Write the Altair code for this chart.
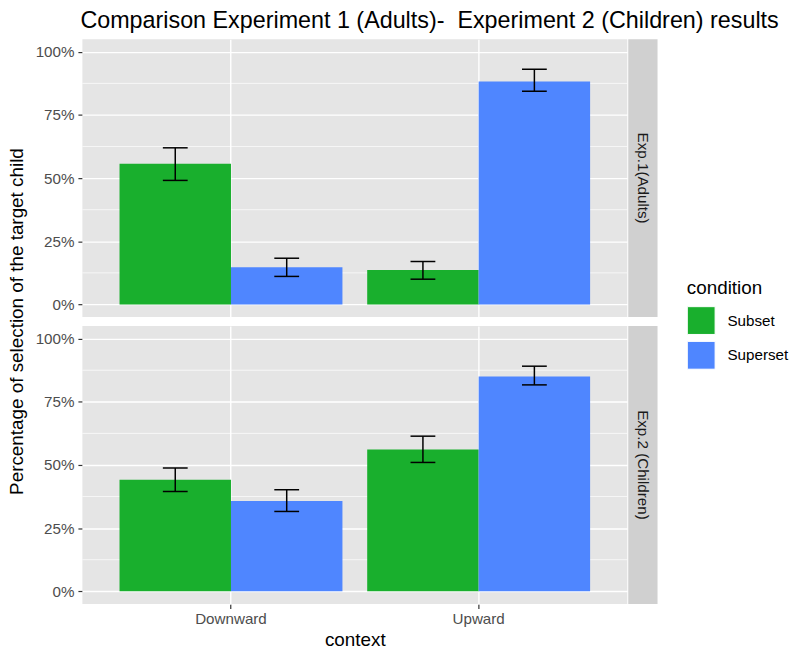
import altair as alt
import pandas as pd

# Experiment panels, x categories and fill groups
experiments = ["Exp.1(Adults)", "Exp.2 (Children)"]
contexts = ["Downward", "Upward"]
conditions = ["Subset", "Superset"]

# One entry per bar: experiment x context x condition
exp_col = ["Exp.1(Adults)"] * 4 + ["Exp.2 (Children)"] * 4
context_col = ["Downward", "Downward", "Upward", "Upward"] * 2
condition_col = ["Subset", "Superset"] * 4
pct = [0.557, 0.147, 0.136, 0.883, 0.441, 0.357, 0.561, 0.850]
lo = [0.491, 0.111, 0.100, 0.844, 0.395, 0.316, 0.510, 0.817]
hi = [0.620, 0.183, 0.170, 0.931, 0.488, 0.402, 0.614, 0.891]

y_breaks = [0, 0.25, 0.5, 0.75, 1.0]
y_minor = [0.125, 0.375, 0.625, 0.875]
y_title = "Percentage of selection of the target child"

df = pd.DataFrame({
    "exp": exp_col,
    "context": context_col,
    "condition": condition_col,
    "pct": pct,
    "lo": lo,
    "hi": hi,
})

W, H = 549, 280
ROW_GAP = 9
FONT = "Liberation Sans"
GREEN, BLUE = "#19AF2D", "#4F86FF"
PANEL_BG, STRIP_BG = "#E5E5E5", "#D0D0D0"

base = alt.Chart()
one_row = (alt.datum.context == "Downward") & (alt.datum.condition == "Subset")

yscale = alt.Scale(domain=[-0.05, 1.05], nice=False, zero=False)
y_axis = alt.Axis(values=y_breaks, format="%", title=None)

x_enc = alt.X(
    "context:N",
    sort=contexts,
    scale=alt.Scale(paddingInner=0.1, paddingOuter=0.15),
    axis=alt.Axis(title="context", labelAngle=0, grid=True),
)
xoff_enc = alt.XOffset(
    "condition:N", sort=conditions, scale=alt.Scale(paddingInner=0, paddingOuter=0)
)

# minor horizontal grid lines (drawn first, beneath the bars)
minor = (
    base.transform_filter(one_row)
    .transform_calculate(m=str(y_minor))
    .transform_flatten(["m"])
    .mark_rule(color="white", strokeWidth=0.7)
    .encode(y=alt.Y("m:Q", scale=yscale, axis=y_axis))
)

bars = base.mark_bar().encode(
    x=x_enc,
    xOffset=xoff_enc,
    y=alt.Y("pct:Q", scale=yscale, axis=y_axis),
    y2=alt.datum(0),
    color=alt.Color(
        "condition:N",
        sort=conditions,
        scale=alt.Scale(domain=conditions, range=[GREEN, BLUE]),
        legend=alt.Legend(title="condition", orient="none", legendX=609, legendY=242),
    ),
)

err = base.mark_rule(color="black", strokeWidth=1.5).encode(
    x=x_enc, xOffset=xoff_enc, y=alt.Y("lo:Q", scale=yscale, axis=y_axis), y2="hi:Q"
)
cap_lo = base.mark_tick(color="black", thickness=1.5, size=25, opacity=1).encode(
    x=x_enc, xOffset=xoff_enc, y=alt.Y("lo:Q", scale=yscale, axis=y_axis)
)
cap_hi = base.mark_tick(color="black", thickness=1.5, size=25, opacity=1).encode(
    x=x_enc, xOffset=xoff_enc, y=alt.Y("hi:Q", scale=yscale, axis=y_axis)
)

# facet strip on the right of each panel
strip = (
    base.transform_filter(one_row)
    .mark_rect(color=STRIP_BG)
    .encode(
        x=alt.value(W + 1),
        x2=alt.value(W + 30.5),
        y=alt.value(0),
        y2=alt.value(H),
    )
)
strip_text = (
    base.transform_filter(one_row)
    .mark_text(angle=90, font=FONT, fontSize=15.3, color="#1A1A1A")
    .encode(text="exp:N", x=alt.value(W + 15.75), y=alt.value(H / 2))
)

# shared y-axis title, centred across both rows (drawn from the top row only)
shared_y_title = (
    base.transform_filter(one_row & (alt.datum.exp == experiments[0]))
    .mark_text(angle=270, font=FONT, fontSize=19, color="black", baseline="middle")
    .encode(
        text=alt.value(y_title),
        x=alt.value(-66),
        y=alt.value(H + ROW_GAP / 2),
    )
)

panel = alt.layer(
    minor, bars, err, cap_lo, cap_hi, strip, strip_text, shared_y_title
).properties(width=W, height=H)

chart = (
    panel.facet(
        row=alt.Row("exp:N", sort=experiments, header=alt.Header(labels=False, title=None)),
        data=df,
        spacing=ROW_GAP,
        bounds="flush",
    )
    .properties(
        title=alt.TitleParams(
            "Comparison Experiment 1 (Adults)-\u00a0 Experiment 2 (Children) results",
            anchor="start",
            font=FONT,
            fontSize=23.5,
            fontWeight="normal",
            color="black",
            offset=7,
            dx=73,
        ),
        padding={"left": 8, "top": 6, "right": 5, "bottom": 5},
        background="white",
    )
    .configure_view(fill=PANEL_BG, stroke=None)
    .configure_axis(
        labelFont=FONT,
        labelFontSize=15.3,
        labelColor="#4D4D4D",
        titleFont=FONT,
        titleFontSize=19,
        titleFontWeight="normal",
        titleColor="black",
        tickColor="#333333",
        tickSize=4.5,
        tickWidth=1.2,
        domain=False,
        gridColor="white",
        gridWidth=1.4,
    )
    .configure_axisX(labelPadding=3, titlePadding=4)
    .configure_axisY(labelPadding=4)
    .configure_legend(
        titleFont=FONT,
        titleFontSize=19,
        titleFontWeight="normal",
        titleColor="black",
        titlePadding=8,
        labelFont=FONT,
        labelFontSize=15.3,
        labelColor="black",
        labelOffset=12,
        symbolType="square",
        symbolSize=784,
        symbolStrokeColor="white",
        symbolStrokeWidth=1,
        symbolOpacity=1,
        rowPadding=2,
    )
)

chart.save("out.html", embed_options={"renderer": "svg", "actions": False})
